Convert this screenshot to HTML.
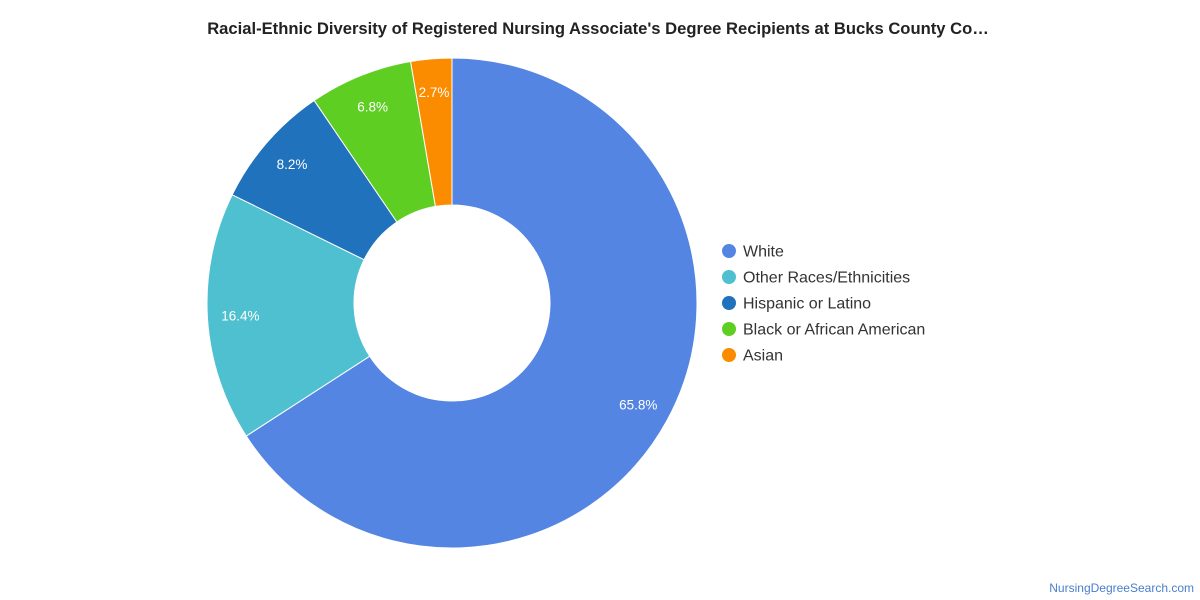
<!DOCTYPE html>
<html><head><meta charset="utf-8"><style>
body{margin:0;background:#fff;font-family:"Liberation Sans",Roboto,sans-serif}
svg{display:block}
</style></head><body>
<svg id="chart" width="1200" height="600">
<text x="598" y="34" text-anchor="middle" font-size="16.6" font-weight="bold" fill="#222">Racial-Ethnic Diversity of Registered Nursing Associate's Degree Recipients at Bucks County Co…</text>
<g id="slices"></g><g id="labels"></g><g id="legend"></g>
<text x="1194" y="592" text-anchor="end" font-size="12" fill="#4a7ecf">NursingDegreeSearch.com</text>
</svg>
<script>
const categories=["White","Other Races/Ethnicities","Hispanic or Latino","Black or African American","Asian"];
const values=[65.8,16.4,8.2,6.8,2.7];
const labels=["65.8%","16.4%","8.2%","6.8%","2.7%"];
const colors=["#5485e3","#4fc0cf","#1f72bb","#5fce23","#fb8c00"];
const NS="http://www.w3.org/2000/svg";
const cx=452,cy=303,R=245,r=98,LR=212;
const total=values.reduce((a,b)=>a+b,0);
function pt(a,rad){return [cx+rad*Math.sin(a),cy-rad*Math.cos(a)];}
let a0=0;
const gs=document.getElementById('slices'),gl=document.getElementById('labels'),gg=document.getElementById('legend');
values.forEach((v,i)=>{
 const a1=a0+v/total*2*Math.PI;
 const [x0,y0]=pt(a0,R),[x1,y1]=pt(a1,R),[x2,y2]=pt(a1,r),[x3,y3]=pt(a0,r);
 const lg=(a1-a0)>Math.PI?1:0;
 const p=document.createElementNS(NS,'path');
 p.setAttribute('d',`M${x0},${y0}A${R},${R} 0 ${lg} 1 ${x1},${y1}L${x2},${y2}A${r},${r} 0 ${lg} 0 ${x3},${y3}Z`);
 p.setAttribute('fill',colors[i]);p.setAttribute('stroke','#fff');p.setAttribute('stroke-width','1');
 
 
 gs.appendChild(p);
 const [lx,ly]=pt((a0+a1)/2,LR);
 const t=document.createElementNS(NS,'text');
 t.setAttribute('x',lx);t.setAttribute('y',ly+5);t.setAttribute('text-anchor','middle');
 t.setAttribute('font-size','13.5');t.setAttribute('fill','#fff');t.textContent=labels[i];
 
 
 gl.appendChild(t);
 const y=251+i*26;
 const c=document.createElementNS(NS,'circle');
 c.setAttribute('cx',729);c.setAttribute('cy',y);c.setAttribute('r',7);c.setAttribute('fill',colors[i]);
 
 
 gg.appendChild(c);
 const lt=document.createElementNS(NS,'text');
 lt.setAttribute('x',743);lt.setAttribute('y',y+5.5);lt.setAttribute('font-size','16');lt.setAttribute('fill','#333');
 lt.textContent=categories[i];
 
 
 gg.appendChild(lt);
 a0=a1;
});
</script>
</body></html>
